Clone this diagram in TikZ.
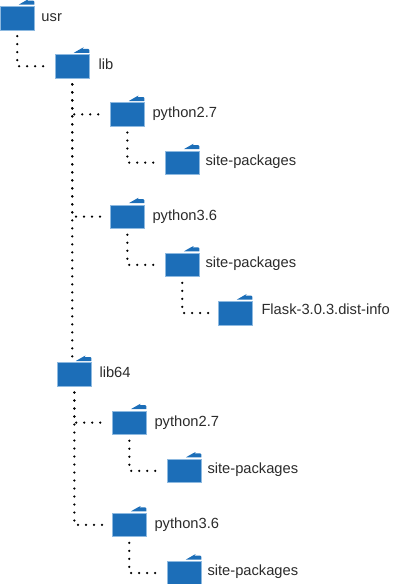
\documentclass[tikz,border=0pt]{standalone}
\usepackage{xcolor}
\usepackage{fontspec}
\setmainfont{Liberation Sans}
\usetikzlibrary{positioning}
\definecolor{FolderBlue}{HTML}{1C6EB8}
\definecolor{FolderEdge}{HTML}{8DB9E0}
\definecolor{LabelGrey}{HTML}{2B2B2B}

\begin{document}
\begin{tikzpicture}[
  x=1pt,y=1pt,
  node distance=24pt and 21pt,
  folder/.style={draw=FolderEdge,line width=0.6pt,fill=FolderBlue,inner sep=0pt,minimum width=33.4pt,minimum height=23.6pt},
  dirname/.style={inner sep=0pt,text=LabelGrey,font=\fontsize{14.7}{17}\selectfont,text height=10pt,text depth=3pt},
  tree/.style={line width=2.5pt,line cap=round,dash pattern=on 0pt off 8pt,shorten <=6pt,shorten >=6pt}
]
  \useasboundingbox (0,0) rectangle (408,-584);

  \node[folder] (usr) at (17.3,-18) {};
  \node[folder, below right=of usr] (lib) {};
  \node[folder, below right=of lib] (py27) {};
  \node[folder, below right=of py27] (site27) {};
  \node[folder, below=78pt of py27] (py36) {};
  \node[folder, below right=of py36] (site36) {};
  \node[folder, below right=24pt and 19pt of site36] (flask) {};
  \node[folder, below=284pt of lib, xshift=2pt] (lib64) {};
  \node[folder, below right=of lib64] (pyb27) {};
  \node[folder, below right=of pyb27] (siteb27) {};
  \node[folder, below=78pt of pyb27] (pyb36) {};
  \node[folder, below right=of pyb36] (siteb36) {};

  % tabs on top of the folders
  \foreach \n in {usr,lib,py27,site27,py36,site36,flask,lib64,pyb27,siteb27,pyb36,siteb36}
    \fill[FolderBlue] ([yshift=1.3pt]\n.north east) -- ++(-15.5,0)
      .. controls +(3.5,2) and +(5,4) .. ++(8.5,4) -- ++(6,0) -- ++(1,-1) -- cycle;

  \node[dirname, right=7pt of usr] (usrname) {usr};
  \node[dirname, right=9pt of lib] (libname) {lib};
  \node[dirname, right=8pt of py27] (py27name) {python2.7};
  \node[dirname, right=6pt of site27, yshift=1pt] (site27name) {site-packages};
  \node[dirname, right=8pt of py36] (py36name) {python3.6};
  \node[dirname, right=6pt of site36, yshift=1pt] (site36name) {site-packages};
  \node[dirname, right=9pt of flask, yshift=2pt] (flaskname) {Flask-3.0.3.dist-info};
  \node[dirname, right=8pt of lib64] (lib64name) {lib64};
  \node[dirname, right=8pt of pyb27] (pyb27name) {python2.7};
  \node[dirname, right=6pt of siteb27, yshift=1pt] (siteb27name) {site-packages};
  \node[dirname, right=8pt of pyb36] (pyb36name) {python3.6};
  \node[dirname, right=6pt of siteb36, yshift=1pt] (siteb36name) {site-packages};

  \draw[tree] (usr.south) |- (lib.west);
  \draw[tree] (lib.south) |- (py27.west);
  \draw[tree] (py27.south) |- (site27.west);
  \draw[tree] (lib.south) |- (py36.west);
  \draw[tree] (py36.south) |- (site36.west);
  \draw[tree] (site36.south) |- (flask.west);
  \draw[tree] (lib.south) -- (lib.south |- lib64.north);
  \draw[tree] (lib64.south) |- (pyb27.west);
  \draw[tree] (pyb27.south) |- (siteb27.west);
  \draw[tree] (lib64.south) |- (pyb36.west);
  \draw[tree] (pyb36.south) |- (siteb36.west);
\end{tikzpicture}
\end{document}
